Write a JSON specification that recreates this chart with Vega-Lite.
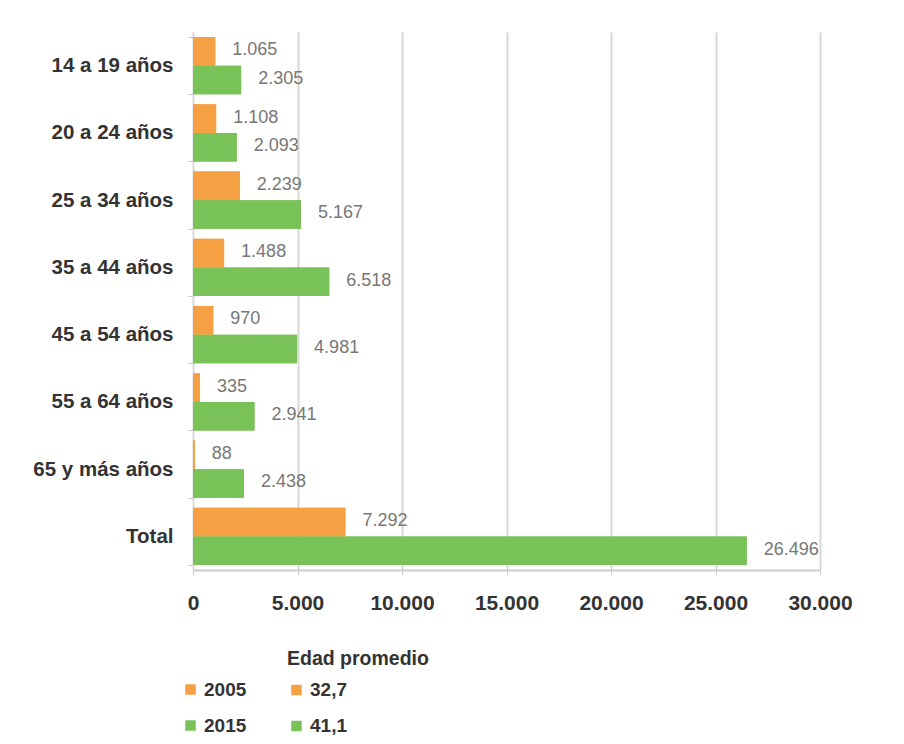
{
  "$schema": "https://vega.github.io/schema/vega-lite/v6.json",
  "width": 627,
  "height": 538,
  "autosize": {"type": "none"},
  "padding": {"left": 193, "top": 32, "right": 84, "bottom": 174},
  "background": "white",
  "config": {
    "locale": {"number": {"decimal": ",", "thousands": ".", "grouping": [3], "currency": ["", ""]}},
    "font": "Liberation Sans",
    "view": {"stroke": null}
  },
  "data": {
    "values": [
      {"grupo": "14 a 19 años", "anio": "2005", "edad": "32,7", "valor": 1065},
      {"grupo": "14 a 19 años", "anio": "2015", "edad": "41,1", "valor": 2305},
      {"grupo": "20 a 24 años", "anio": "2005", "edad": "32,7", "valor": 1108},
      {"grupo": "20 a 24 años", "anio": "2015", "edad": "41,1", "valor": 2093},
      {"grupo": "25 a 34 años", "anio": "2005", "edad": "32,7", "valor": 2239},
      {"grupo": "25 a 34 años", "anio": "2015", "edad": "41,1", "valor": 5167},
      {"grupo": "35 a 44 años", "anio": "2005", "edad": "32,7", "valor": 1488},
      {"grupo": "35 a 44 años", "anio": "2015", "edad": "41,1", "valor": 6518},
      {"grupo": "45 a 54 años", "anio": "2005", "edad": "32,7", "valor": 970},
      {"grupo": "45 a 54 años", "anio": "2015", "edad": "41,1", "valor": 4981},
      {"grupo": "55 a 64 años", "anio": "2005", "edad": "32,7", "valor": 335},
      {"grupo": "55 a 64 años", "anio": "2015", "edad": "41,1", "valor": 2941},
      {"grupo": "65 y más años", "anio": "2005", "edad": "32,7", "valor": 88},
      {"grupo": "65 y más años", "anio": "2015", "edad": "41,1", "valor": 2438},
      {"grupo": "Total", "anio": "2005", "edad": "32,7", "valor": 7292},
      {"grupo": "Total", "anio": "2015", "edad": "41,1", "valor": 26496}
    ]
  },
  "encoding": {
    "y": {
      "field": "grupo", "type": "nominal", "sort": null, "title": null,
      "scale": {"paddingInner": 0.15, "paddingOuter": 0.075},
      "axis": {
        "labelFontSize": 20.5, "labelFontWeight": "bold", "labelColor": "#333333",
        "labelPadding": 15, "tickBand": "extent", "tickSize": 5, "tickColor": "#c4c4c4",
        "domainColor": "#dddddd", "grid": false
      }
    },
    "x": {
      "field": "valor", "type": "quantitative", "title": null,
      "scale": {"domain": [0, 30000], "nice": false},
      "axis": {
        "values": [0, 5000, 10000, 15000, 20000, 25000, 30000], "format": ",d",
        "labelFlush": false, "labelOverlap": false,
        "labelFontSize": 21, "labelFontWeight": "bold", "labelColor": "#333333",
        "labelPadding": 17, "tickSize": 5, "tickColor": "#cccccc",
        "domainColor": "#cccccc", "domainWidth": 2,
        "grid": true, "gridColor": "#d8d8d8", "gridWidth": 2
      }
    },
    "yOffset": {"field": "anio", "type": "nominal", "sort": ["2005", "2015"]}
  },
  "layer": [
    {
      "mark": {"type": "bar"},
      "encoding": {
        "color": {
          "field": "anio", "type": "nominal",
          "scale": {"domain": ["2005", "2015"], "range": ["#F5A043", "#79C257"]},
          "legend": {
            "title": null, "orient": "none", "legendX": -12, "legendY": 648,
            "symbolType": "square", "symbolSize": 110, "symbolStrokeWidth": 0,
            "labelFontSize": 19, "labelFontWeight": "bold", "labelColor": "#333333",
            "rowPadding": 16, "labelOffset": 4
          }
        }
      }
    },
    {
      "mark": {"type": "bar"},
      "encoding": {
        "fill": {
          "field": "edad", "type": "nominal",
          "scale": {"domain": ["32,7", "41,1"], "range": ["#F5A043", "#79C257"]},
          "legend": {
            "title": "Edad promedio", "orient": "none", "legendX": 94, "legendY": 618,
            "titleFontSize": 19.5, "titleFontWeight": "bold", "titleColor": "#333333",
            "titlePadding": 11,
            "symbolType": "square", "symbolSize": 110, "symbolStrokeWidth": 0,
            "labelFontSize": 19, "labelFontWeight": "bold", "labelColor": "#333333",
            "rowPadding": 16, "labelOffset": 4
          }
        }
      }
    },
    {
      "mark": {
        "type": "text", "align": "left", "baseline": "middle", "dx": 17, "dy": -1,
        "fontSize": 18, "color": "#777777"
      },
      "encoding": {
        "text": {"field": "valor", "type": "quantitative", "format": ",d"}
      }
    }
  ]
}
